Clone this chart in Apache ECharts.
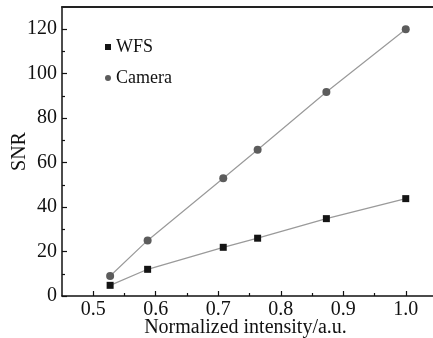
<!DOCTYPE html>
<html>
<head>
<meta charset="utf-8">
<script src="https://cdn.jsdelivr.net/npm/echarts@6/dist/echarts.min.js"></script>
<style>
  html, body { margin: 0; padding: 0; background: #fff; }
  #chart { width: 433px; height: 338px; }
</style>
</head>
<body>
<div id="chart"></div>
<script>
// normalized intensity for each measurement
const intensity = [0.527, 0.587, 0.708, 0.763, 0.873, 1.0];
const wfsSnr = [4.8, 12, 21.9, 26, 34.8, 43.8];
const cameraSnr = [9, 25, 53, 65.8, 91.8, 120];

const xTicks = [0.5, 0.6, 0.7, 0.8, 0.9, 1.0];
const xMinor = [0.55, 0.65, 0.75, 0.85, 0.95];
const yTicks = [0, 20, 40, 60, 80, 100, 120];
const yMinor = [10, 30, 50, 70, 90, 110];

const font = '"Liberation Serif", "Times New Roman", serif';
const ink = "#111";

const chart = echarts.init(document.getElementById("chart"));

const pairs = (ys) => intensity.map((x, i) => [x, ys[i]]);

const xBase = { type: "value", min: 0.45, max: 1.05, splitLine: { show: false } };
const yBase = { type: "value", min: 0, max: 130, splitLine: { show: false } };

chart.setOption({
  animation: false,
  backgroundColor: "#fff",
  textStyle: { fontFamily: font },
  grid: { left: 62, right: -4, top: 7, bottom: 42, containLabel: false, outerBoundsMode: "none" },
  legend: {
    orient: "vertical",
    left: 100,
    top: 33,
    itemWidth: 6,
    itemHeight: 6,
    itemGap: 13,
    textStyle: { fontFamily: font, fontSize: 18, color: ink, lineHeight: 18, padding: [0, 0, 0, 0] },
    data: [
      { name: "WFS", icon: "rect" },
      { name: "Camera", icon: "circle" },
    ],
  },
  xAxis: [
    Object.assign({}, xBase, {
      position: "bottom",
      name: "Normalized intensity/a.u.",
      nameLocation: "middle",
      nameGap: 22,
      nameMoveOverlap: false,
      nameTextStyle: { fontFamily: font, fontSize: 20, color: ink, padding: [0, 8, 0, 0] },
      axisLine: { lineStyle: { color: ink, width: 1.5 } },
      axisTick: { inside: true, length: 5, customValues: xTicks, lineStyle: { color: ink, width: 1.2 } },
      axisLabel: {
        customValues: xTicks,
        margin: 4,
        fontFamily: font,
        fontSize: 20,
        color: ink,
        formatter: (v) => v.toFixed(1),
      },
    }),
    Object.assign({}, xBase, {
      position: "bottom",
      axisLine: { show: false },
      axisTick: { inside: true, length: 3, customValues: xMinor, lineStyle: { color: ink, width: 1.2 } },
      axisLabel: { show: false },
    }),
    Object.assign({}, xBase, {
      position: "top",
      axisLine: { lineStyle: { color: "#222", width: 2 } },
      axisTick: { show: false },
      axisLabel: { show: false },
    }),
  ],
  yAxis: [
    Object.assign({}, yBase, {
      position: "left",
      name: "SNR",
      nameLocation: "middle",
      nameGap: 32,
      nameMoveOverlap: false,
      nameTextStyle: { fontFamily: font, fontSize: 20, color: ink },
      axisLine: { lineStyle: { color: ink, width: 1.5 } },
      axisTick: { inside: true, length: 5, customValues: yTicks, lineStyle: { color: ink, width: 1.2 } },
      axisLabel: { customValues: yTicks, margin: 5, fontFamily: font, fontSize: 20, color: ink },
    }),
    Object.assign({}, yBase, {
      position: "left",
      axisLine: { show: false },
      axisTick: { inside: true, length: 3, customValues: yMinor, lineStyle: { color: ink, width: 1.2 } },
      axisLabel: { show: false },
    }),
  ],
  series: [
    {
      name: "WFS",
      type: "line",
      xAxisIndex: 0,
      yAxisIndex: 0,
      data: pairs(wfsSnr),
      symbol: "rect",
      symbolSize: 7,
      itemStyle: { color: "#141414" },
      lineStyle: { color: "#9a9a9a", width: 1.2 },
      z: 3,
    },
    {
      name: "Camera",
      type: "line",
      xAxisIndex: 0,
      yAxisIndex: 0,
      data: pairs(cameraSnr),
      symbol: "circle",
      symbolSize: 8,
      itemStyle: { color: "#5c5c5c" },
      lineStyle: { color: "#9a9a9a", width: 1.2 },
      z: 3,
    },
  ],
});
</script>
</body>
</html>
